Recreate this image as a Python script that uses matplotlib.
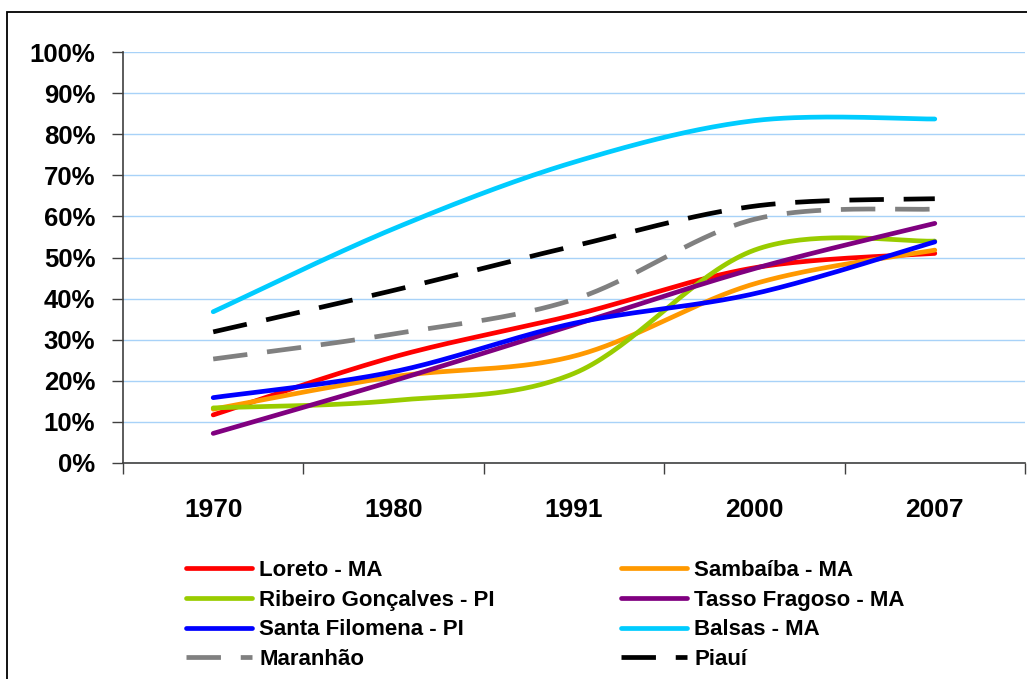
import numpy as np
import matplotlib
matplotlib.use("Agg")
import matplotlib.pyplot as plt
from matplotlib.patches import Rectangle
from matplotlib.lines import Line2D

plt.rcParams['font.family'] = ['Liberation Sans', 'DejaVu Sans']
plt.rcParams['font.weight'] = 'bold'

# Urbanization rate (%) by census year
years = ["1970", "1980", "1991", "2000", "2007"]
loreto = [11.7, 25.8, 36.0, 47.5, 51.0]
sambaiba = [13.1, 21.0, 26.0, 43.6, 51.8]
ribeiro = [13.4, 15.2, 21.8, 51.8, 54.0]
tasso = [7.2, 20.0, 33.6, 47.3, 58.3]
santa_filomena = [15.9, 22.2, 34.0, 41.2, 53.8]
balsas = [36.8, 57.0, 73.2, 83.3, 83.7]
maranhao = [25.3, 31.4, 39.8, 59.3, 61.8]
piaui = [31.9, 42.0, 52.8, 62.5, 64.3]

series = [
    ("Loreto - MA", loreto, "#FF0000", None),
    ("Sambaíba - MA", sambaiba, "#FF9900", None),
    ("Ribeiro Gonçalves - PI", ribeiro, "#99CC00", None),
    ("Tasso Fragoso - MA", tasso, "#800080", None),
    ("Santa Filomena - PI", santa_filomena, "#0000FF", None),
    ("Balsas - MA", balsas, "#00CCFF", None),
    ("Maranhão", maranhao, "#808080", (8, 4.6)),
    ("Piauí", piaui, "#000000", (8, 4.6)),
]


def smooth(xs, ys, n=40):
    """Bezier smoothing with control points at P +/- (P[i+1]-P[i-1])/6."""
    pts = np.column_stack([xs, ys]).astype(float)
    m = len(pts)
    out = [pts[0]]
    for i in range(m - 1):
        p0 = pts[i]
        p3 = pts[i + 1]
        prev = pts[i - 1] if i > 0 else pts[i]
        nxt = pts[i + 2] if i + 2 < m else pts[i + 1]
        c1 = p0 + (p3 - prev) / 6.0
        c2 = p3 - (nxt - p0) / 6.0
        t = np.linspace(0, 1, n)[1:, None]
        seg = ((1 - t) ** 3) * p0 + 3 * ((1 - t) ** 2) * t * c1 \
            + 3 * (1 - t) * t ** 2 * c2 + t ** 3 * p3
        out.extend(seg)
    out = np.array(out)
    return out[:, 0], out[:, 1]


fig = plt.figure(figsize=(10.27, 6.79), dpi=100)
ax = fig.add_axes([123 / 1027, 1 - 463 / 679, (1025 - 123) / 1027, (463 - 52) / 679])

LW = 3.4
x = np.arange(len(years))
handles = {}
for name, vals, color, dash in series:
    sx, sy = smooth(x, vals)
    (ln,) = ax.plot(sx, sy, color=color, lw=LW, solid_capstyle='round',
                    dash_capstyle='butt', zorder=3)
    if dash is not None:
        ln.set_dashes((dash[0] * 3.1 / LW, dash[1] * 3.1 / LW))
    h = Line2D([], [], color=color, lw=LW, solid_capstyle='round')
    if dash is not None:
        h.set_dashes((dash[0] * 3.1 / LW, dash[1] * 3.1 / LW))
    handles[name] = h

ax.set_xlim(-0.5, len(years) - 0.5)
ax.set_ylim(0, 100)
ax.set_yticks(np.arange(0, 101, 10))
ax.set_yticklabels([f"{v}%" for v in range(0, 101, 10)], fontsize=18.5, fontweight='bold')
ax.yaxis.grid(True, color="#A8D2F8", lw=1.0, zorder=0)
ax.set_axisbelow(True)

ax.set_xticks(np.arange(-0.5, len(years), 1.0))
ax.set_xticklabels([])
ax.set_xticks(x, minor=True)
ax.set_xticklabels(years, minor=True, fontsize=19, fontweight='bold')
ax.tick_params(axis='x', which='major', length=8, color="#404040", width=1)
ax.tick_params(axis='x', which='minor', length=0, pad=25)
ax.tick_params(axis='y', length=8, color="#404040", width=1, pad=12)

for side in ("top", "right"):
    ax.spines[side].set_visible(False)
for side in ("left", "bottom"):
    ax.spines[side].set_color("#404040")
    ax.spines[side].set_linewidth(1.2)

order = ["Loreto - MA", "Ribeiro Gonçalves - PI", "Santa Filomena - PI", "Maranhão",
         "Sambaíba - MA", "Tasso Fragoso - MA", "Balsas - MA", "Piauí"]
leg = fig.legend([handles[k] for k in order], order, ncol=2, frameon=False,
                 loc="upper left", bbox_to_anchor=(186 / 1027, 1 - 560 / 679),
                 prop={'size': 16, 'weight': 'bold'},
                 handlelength=2.97, handletextpad=0.32, columnspacing=5.7,
                 labelspacing=0.39, borderpad=0, borderaxespad=0)

# Chart frame
fig.patches.append(Rectangle((7 / 1027, -0.1), 1.2, 1 - 12 / 679 + 0.1,
                             transform=fig.transFigure, fill=False,
                             edgecolor="black", lw=1.3))

fig.savefig("out.png", dpi=100)
